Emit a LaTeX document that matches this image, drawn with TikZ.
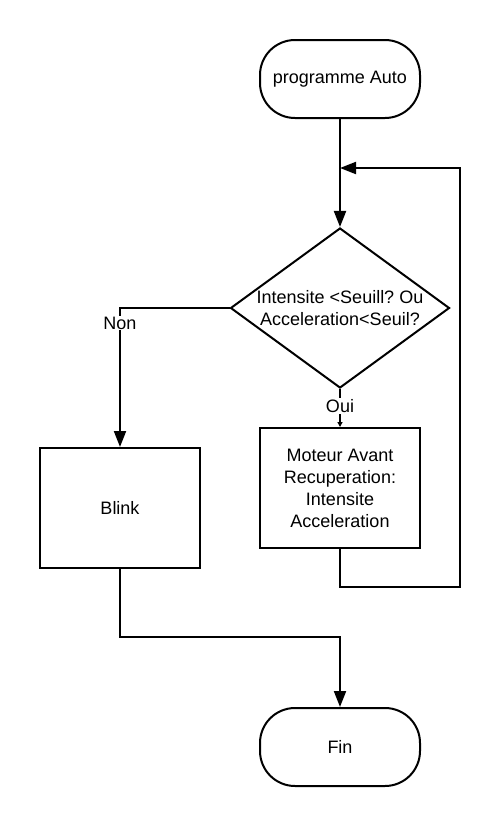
\documentclass[tikz,border=0pt]{standalone}
\usepackage{fontspec}
\setmainfont{Liberation Sans}
\usetikzlibrary{arrows.meta, positioning, shapes.geometric}
\frenchspacing

\begin{document}
\begin{tikzpicture}[x=1pt, y=-1pt, line width=2pt,
    font=\fontsize{18}{22}\selectfont,
    terminal/.style={draw, rounded corners=35pt, minimum width=160pt, minimum height=78pt},
    process/.style={draw, minimum width=160pt, minimum height=120pt, align=center},
    decision/.style={draw, diamond, minimum width=219pt, minimum height=160pt, inner sep=0pt, aspect=1.37},
    flow/.style={-{Triangle[length=16pt, width=12pt]}},
    tag/.style={fill=white, inner sep=1pt}]
    \fill[white] (0,0) rectangle (501,828);
    \useasboundingbox (0,0) rectangle (501,828);

    % Boxes
    \node[terminal] (start) at (340,79) {programme Auto};
    \node[decision] (test) at (340,308) {};
    \node[align=center] (testtext) at (test.center) {Intensite <Seuill? Ou\\Acceleration<Seuil?};
    \node[process] (moteur) at (340,488) {Moteur Avant\\Recuperation:\\Intensite\\Acceleration};
    \node[process] (blink) at (120,508) {Blink};
    \node[terminal] (fin) at (340,747) {Fin};

    % Loop back point
    \coordinate (merge) at (340,168);
    \coordinate (back) at (460,168);

    % Connectors
    \draw[flow] (start) -- (test);
    \draw[flow] (test.west) -| node[tag, pos=0.554] {Non} (blink.north);
    \draw[-{Triangle[length=5pt, width=5pt]}] (test.south) -- node[tag, pos=0.45] {Oui} (moteur.north);
    \draw[flow] (moteur.south) -- ++(0,38) -| (back) -- (merge);
    \draw[flow] (blink.south) -- ++(0,68) -| (fin.north);
\end{tikzpicture}
\end{document}
